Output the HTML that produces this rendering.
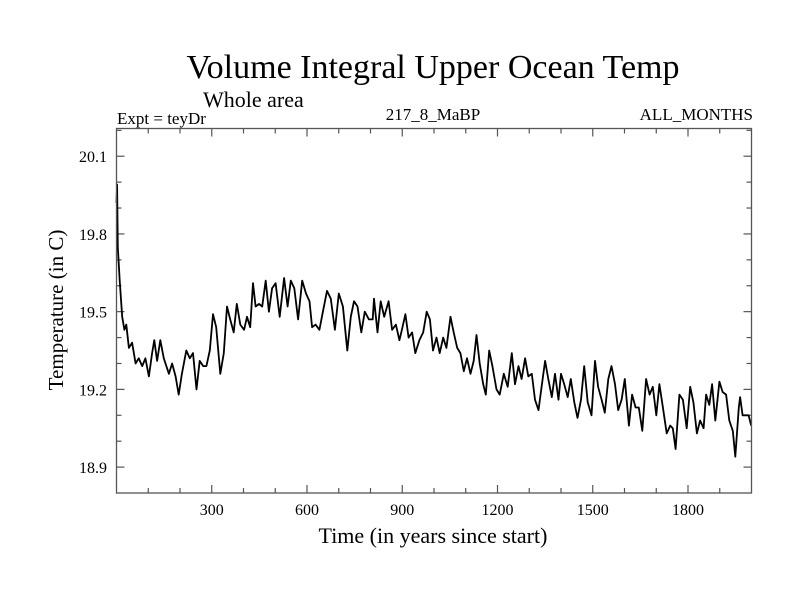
<!DOCTYPE html>
<html><head><meta charset="utf-8"><style>
html,body{margin:0;padding:0;background:#fff;}
svg{display:block;font-family:"Liberation Serif",serif;}
</style></head><body>
<svg id="chart" width="800" height="600">
<text x="433" y="78" font-size="34" text-anchor="middle">Volume Integral Upper Ocean Temp</text>
<text x="203" y="107" font-size="22">Whole area</text>
<text x="117" y="124" font-size="17">Expt = teyDr</text>
<text x="433" y="120" font-size="17" text-anchor="middle">217_8_MaBP</text>
<text x="753" y="120" font-size="17" text-anchor="end">ALL_MONTHS</text>
<text x="433" y="543" font-size="22" text-anchor="middle">Time (in years since start)</text>
<text transform="translate(63,310) rotate(-90)" font-size="21" text-anchor="middle">Temperature (in C)</text>
<g id="axes"></g>
<path id="line" fill="none" stroke="#000" stroke-width="1.8" stroke-linejoin="round"></path>
<rect x="116.5" y="128.5" width="635" height="364.5" fill="none" stroke="#555" stroke-width="1.3"></rect>
</svg>
<script>
const years=[0,2,4,10,18,25,31,39,49,60,70,81,91,102,112,119,128,138,149,165,175,186,196,206,220,231,241,252,262,273,283,294,304,314,327,338,348,358,369,379,390,402,411,421,430,438,449,459,470,480,490,501,514,528,539,549,560,572,585,597,608,616,627,639,650,663,675,688,700,713,727,738,748,759,771,782,795,807,811,822,832,843,857,868,880,891,899,910,920,931,941,954,966,977,987,997,1008,1018,1029,1039,1052,1062,1073,1083,1094,1104,1115,1125,1134,1144,1155,1163,1174,1184,1197,1207,1220,1232,1245,1255,1266,1276,1287,1297,1308,1318,1329,1339,1350,1360,1371,1381,1392,1400,1410,1421,1431,1442,1452,1463,1473,1484,1496,1507,1517,1528,1538,1549,1559,1570,1580,1591,1601,1614,1624,1635,1645,1656,1668,1679,1689,1700,1710,1721,1733,1744,1752,1761,1773,1784,1796,1807,1817,1828,1838,1849,1857,1867,1876,1886,1899,1909,1920,1930,1941,1949,1960,1964,1972,1985,1991,1999];
const temps=[19.92,19.99,19.75,19.62,19.48,19.43,19.45,19.36,19.38,19.30,19.32,19.29,19.32,19.25,19.34,19.39,19.31,19.39,19.32,19.26,19.30,19.25,19.18,19.26,19.35,19.32,19.34,19.20,19.31,19.29,19.29,19.35,19.49,19.44,19.26,19.34,19.52,19.47,19.42,19.53,19.45,19.43,19.48,19.44,19.61,19.52,19.53,19.52,19.62,19.50,19.59,19.61,19.48,19.63,19.52,19.62,19.59,19.47,19.62,19.57,19.54,19.44,19.45,19.43,19.50,19.58,19.55,19.43,19.57,19.52,19.35,19.48,19.54,19.52,19.42,19.50,19.47,19.47,19.55,19.42,19.54,19.48,19.54,19.43,19.45,19.39,19.43,19.49,19.40,19.42,19.34,19.39,19.42,19.50,19.47,19.35,19.40,19.34,19.40,19.36,19.48,19.42,19.36,19.34,19.27,19.32,19.26,19.31,19.41,19.30,19.22,19.18,19.35,19.29,19.20,19.18,19.26,19.21,19.34,19.22,19.29,19.24,19.32,19.25,19.26,19.16,19.12,19.21,19.31,19.24,19.17,19.26,19.16,19.26,19.22,19.17,19.24,19.15,19.09,19.16,19.29,19.15,19.10,19.31,19.21,19.16,19.11,19.24,19.29,19.22,19.12,19.16,19.24,19.06,19.18,19.13,19.13,19.04,19.24,19.18,19.21,19.10,19.22,19.13,19.03,19.06,19.05,18.97,19.18,19.16,19.05,19.21,19.15,19.03,19.08,19.05,19.18,19.14,19.22,19.08,19.23,19.19,19.18,19.08,19.04,18.94,19.13,19.17,19.10,19.10,19.10,19.06];
const xTickLabels=[300,600,900,1200,1500,1800];
const yTickLabels=["18.9","19.2","19.5","19.8","20.1"];
const X0=116.5,X1=751.5,Y0=493,Y1=128.5,XMIN=0,XMAX=2000,YMIN=18.8,YMAX=20.207;
function sx(v){return X0+(v-XMIN)/(XMAX-XMIN)*(X1-X0);}
function sy(v){return Y0-(v-YMIN)/(YMAX-YMIN)*(Y0-Y1);}
const NS="http://www.w3.org/2000/svg";
const axes=document.getElementById('axes');
function ln(x1,y1,x2,y2,name){const l=document.createElementNS(NS,'line');l.setAttribute('x1',x1);l.setAttribute('y1',y1);l.setAttribute('x2',x2);l.setAttribute('y2',y2);l.setAttribute('stroke','#555');l.setAttribute('stroke-width','1.2');


axes.appendChild(l);}
for(let v=100;v<XMAX;v+=100){const x=sx(v);const major=v%300===0;const len=major?8:5;ln(x,Y0,x,Y0-len,'x-tick');ln(x,Y1,x,Y1+len,'x-tick-top');}
for(let k=0;k<=13;k++){const v=18.9+k*0.1;if(v>YMAX)break;const y=sy(v);const major=k%3===0;const len=major?8:5;ln(X0,y,X0+len,y,'y-tick');ln(X1,y,X1-len,y,'y-tick-right');}
xTickLabels.forEach(v=>{const t=document.createElementNS(NS,'text');t.setAttribute('x',sx(v));t.setAttribute('y',515);t.setAttribute('font-size','16');t.setAttribute('text-anchor','middle');t.textContent=v;


axes.appendChild(t);});
yTickLabels.forEach(s=>{const t=document.createElementNS(NS,'text');t.setAttribute('x',107);t.setAttribute('y',sy(parseFloat(s))+6);t.setAttribute('font-size','16');t.setAttribute('text-anchor','end');t.textContent=s;


axes.appendChild(t);});
let d='';years.forEach((yr,i)=>{d+=(i?'L':'M')+sx(yr).toFixed(1)+','+sy(temps[i]).toFixed(1);});
document.getElementById('line').setAttribute('d',d);
</script>
</body></html>
